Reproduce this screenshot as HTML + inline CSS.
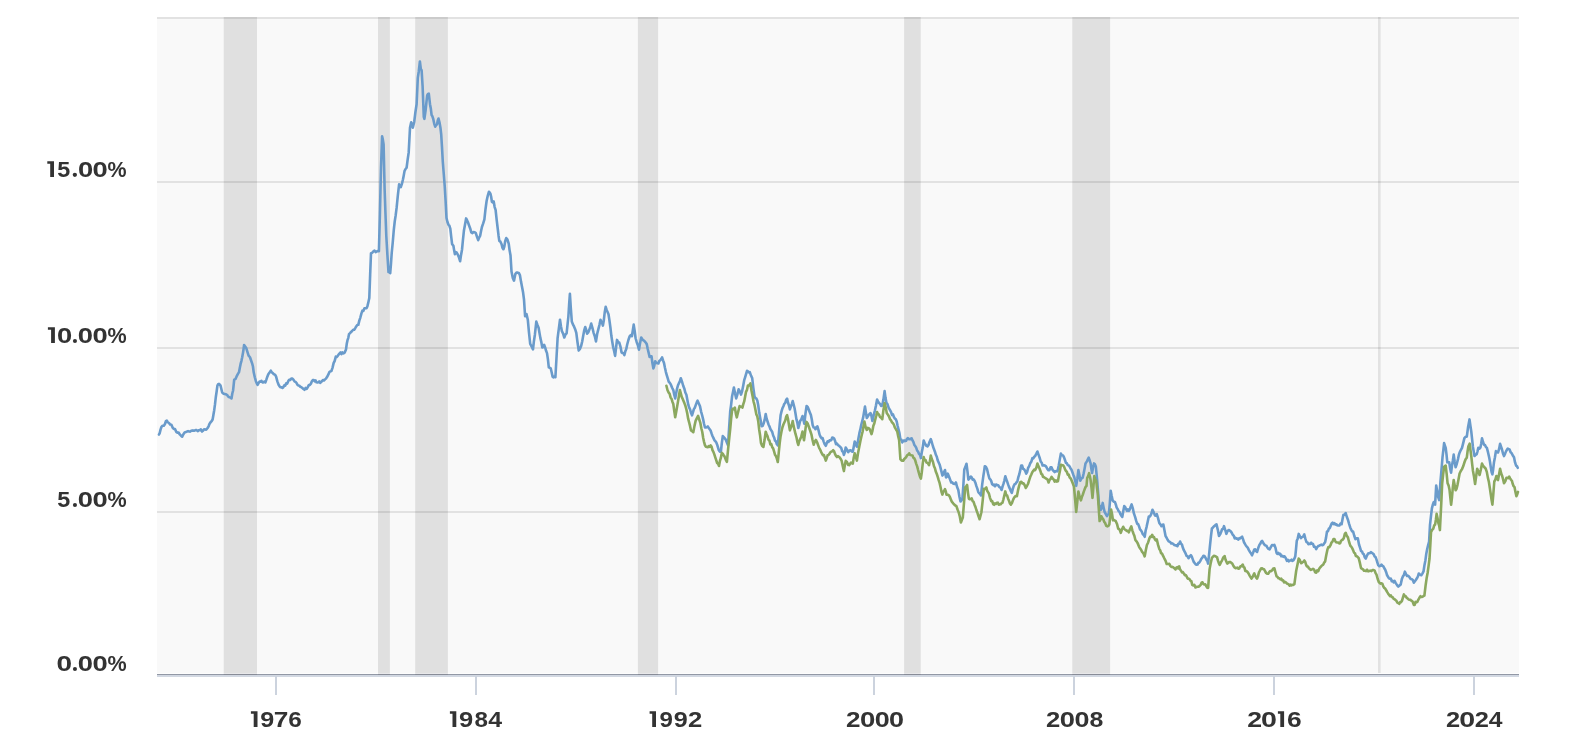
<!DOCTYPE html>
<html><head><meta charset="utf-8"><style>
html,body{margin:0;padding:0;background:#fff;width:1580px;height:750px;overflow:hidden}
svg{display:block}
text{font-family:"Liberation Sans",sans-serif;font-weight:bold;fill:#333}
.lbl{will-change:transform}
</style></head><body>
<svg width="1580" height="750" viewBox="0 0 1580 750">
<rect x="0" y="0" width="1580" height="750" fill="#fff"/>
<rect x="157" y="17" width="1362" height="656" fill="#f9f9f9"/>
<rect x="223.7" y="17" width="33.30000000000001" height="656" fill="#e0e0e0"/><rect x="378" y="17" width="11.899999999999977" height="656" fill="#e0e0e0"/><rect x="415.2" y="17" width="32.69999999999999" height="656" fill="#e0e0e0"/><rect x="637.9" y="17" width="20.200000000000045" height="656" fill="#e0e0e0"/><rect x="904.1" y="17" width="16.600000000000023" height="656" fill="#e0e0e0"/><rect x="1072.3" y="17" width="37.799999999999955" height="656" fill="#e0e0e0"/>
<rect x="1378" y="17" width="2.6" height="656" fill="#e2e2e2"/>
<rect x="157" y="17" width="1362" height="2" fill="rgba(0,0,0,0.09)"/>
<rect x="157" y="181" width="1362" height="2" fill="rgba(0,0,0,0.09)"/>
<rect x="157" y="347" width="1362" height="2" fill="rgba(0,0,0,0.09)"/>
<rect x="157" y="511" width="1362" height="2" fill="rgba(0,0,0,0.09)"/>
<rect x="157" y="673" width="1362" height="1" fill="#fdfdfd"/>
<rect x="223.7" y="673" width="33.30000000000001" height="1" fill="#e8e8ea"/><rect x="378" y="673" width="11.899999999999977" height="1" fill="#e8e8ea"/><rect x="415.2" y="673" width="32.69999999999999" height="1" fill="#e8e8ea"/><rect x="637.9" y="673" width="20.200000000000045" height="1" fill="#e8e8ea"/><rect x="904.1" y="673" width="16.600000000000023" height="1" fill="#e8e8ea"/><rect x="1072.3" y="673" width="37.799999999999955" height="1" fill="#e8e8ea"/><rect x="157" y="674" width="1362" height="1" fill="#9298a5"/><rect x="223.7" y="674" width="33.30000000000001" height="1" fill="#888c97"/><rect x="378" y="674" width="11.899999999999977" height="1" fill="#888c97"/><rect x="415.2" y="674" width="32.69999999999999" height="1" fill="#888c97"/><rect x="637.9" y="674" width="20.200000000000045" height="1" fill="#888c97"/><rect x="904.1" y="674" width="16.600000000000023" height="1" fill="#888c97"/><rect x="1072.3" y="674" width="37.799999999999955" height="1" fill="#888c97"/>
<rect x="157" y="675" width="1362" height="2" fill="#d2d8e2"/>
<rect x="275" y="676" width="2" height="19" fill="#ccd3de"/><rect x="475" y="676" width="2" height="19" fill="#ccd3de"/><rect x="675" y="676" width="2" height="19" fill="#ccd3de"/><rect x="873" y="676" width="2" height="19" fill="#ccd3de"/><rect x="1073" y="676" width="2" height="19" fill="#ccd3de"/><rect x="1273" y="676" width="2" height="19" fill="#ccd3de"/><rect x="1473" y="676" width="2" height="19" fill="#ccd3de"/>
<path d="M159 434.54 L159.8 432.83 L160.6 429.39 L161.4 427.01 L162.2 426 L163 425.73 L163.8 425.81 L164.85 424.29 L165.9 421.21 L166.85 420.62 L167.8 422.24 L169 423.04 L170.2 424.59 L171.4 424.81 L172.6 427.56 L173.8 428.93 L175 429 L176.2 431.87 L177.4 432.69 L178.6 432.47 L179.8 434.46 L181 435.7 L182.2 436.72 L183.4 434.26 L184.6 432.5 L185.8 432.11 L187 431.56 L188.07 431.13 L189.13 431.55 L190.2 431.6 L191.27 430.69 L192.33 430.42 L193.4 430.6 L194.47 430.6 L195.53 430.1 L196.6 430.16 L197.67 431.14 L198.73 430.3 L199.8 430.1 L200.87 429.41 L201.93 431.52 L203 430.76 L204.07 429.26 L205.13 429.43 L206.2 429.66 L207.4 428.26 L208.6 426.31 L209.4 424.06 L210.2 422.74 L211.4 421.46 L212.6 419.46 L213.4 415.01 L214.2 410.28 L215 404.43 L215.8 397.2 L216.6 391.81 L217.4 385.66 L218.2 384.18 L219 383.81 L219.8 384.59 L220.6 385.76 L221.4 389.32 L222.2 392.55 L223.4 393.62 L224.6 393.91 L225.8 394.25 L227 394.81 L228.2 396.67 L229.4 397.22 L230.45 397.59 L231.5 398.49 L232.3 393.52 L233.1 390.47 L234.2 379.75 L235.4 379.16 L236.6 376.47 L237.8 374.14 L239 372.16 L239.8 368.01 L240.6 363.95 L241.4 361.05 L242.2 357.23 L243.15 352.06 L244.1 345.01 L245.15 346.43 L246.2 347.93 L247.4 351.79 L248.6 355.57 L250 357.23 L251.1 360.47 L252.2 363.63 L252.95 366.51 L253.7 372.3 L254.8 377.27 L255.9 381.18 L256.75 383.33 L257.6 384.82 L258.55 383.14 L259.5 381.64 L260.5 381.59 L261.5 380.87 L262.5 382.37 L263.47 382.37 L264.43 381.58 L265.4 382.4 L266.37 379.66 L267.33 376.66 L268.3 374.19 L269.55 372.54 L270.8 370.69 L271.7 372.1 L272.6 372.97 L273.5 373.96 L274.37 374.38 L275.23 374.99 L276.1 376.56 L277.35 381.42 L278.6 384.81 L279.57 386.28 L280.53 387.29 L281.5 387.32 L282.43 387.95 L283.35 387.17 L284.27 385.37 L285.2 385.65 L286.17 383.37 L287.13 383.68 L288.1 381.42 L289.17 379.7 L290.23 379.97 L291.3 378.59 L292.43 378.63 L293.57 379.82 L294.7 381.62 L295.7 381.94 L296.7 383.32 L297.7 385.15 L298.6 385.52 L299.5 385.82 L300.4 386.81 L301.3 387.16 L302.37 388.06 L303.43 388.98 L304.5 389.78 L305.63 387.99 L306.77 388.83 L307.9 386.81 L308.9 385 L309.9 384.85 L310.9 383.73 L311.87 381.25 L312.83 380.14 L313.8 379.95 L314.7 381.28 L315.6 380.48 L316.5 382.34 L317.4 382.53 L318.32 382.31 L319.25 381.33 L320.18 382.94 L321.1 381.81 L322.03 381.16 L322.95 379.99 L323.88 380.53 L324.8 379.62 L325.9 378.63 L327 377.07 L328.4 374.39 L329.4 372.01 L330.4 371.35 L331.4 370.94 L332.5 367.85 L333.6 363.16 L334.7 360.86 L335.8 356.56 L336.77 357.02 L337.73 355.82 L338.7 354.44 L339.62 353.48 L340.55 352.47 L341.47 354.13 L342.4 352.47 L343.5 353.32 L344.6 352.63 L346 349.45 L346.75 343.86 L347.5 340.16 L348.25 338.09 L349 334.15 L350.04 333.14 L351.08 331.95 L352.12 330.99 L353.16 329.77 L354.2 329.73 L355.23 328.21 L356.25 326.42 L357.27 324.98 L358.3 324.82 L359.32 320.64 L360.35 317.55 L361.38 313.56 L362.4 310.67 L363.42 310.86 L364.45 308.24 L365.48 308.18 L366.5 308.28 L367.43 306.17 L368.37 302.28 L369.3 298.08 L370.15 274.91 L371 253.13 L372.25 252.76 L373.5 251.21 L374.57 250.66 L375.63 252.08 L376.7 251.43 L377.8 251.06 L378.9 251.25 L379.9 214.41 L381 167.86 L382.1 136.4 L382.85 139.66 L383.6 144.5 L384.6 188.79 L385.45 213.07 L386.3 235.97 L387.4 254.87 L388.5 272.11 L389.35 272.37 L390.2 273.15 L390.95 264.03 L391.7 253.07 L392.75 242.34 L393.8 229.78 L394.73 221.52 L395.67 215.42 L396.6 207.92 L397.85 195.34 L399.1 184.39 L399.95 186.68 L400.8 187.11 L401.9 183.94 L403 179.29 L403.75 175.43 L404.5 171.1 L405.55 169.01 L406.6 167.75 L407.65 159.54 L408.7 152.4 L410 127.83 L411.2 122.28 L412 124.85 L412.8 127.71 L414.2 121.97 L415.4 112.24 L416.6 104.21 L417.8 77.84 L418.8 71.25 L419.9 61.52 L420.8 68.91 L421.6 70.12 L422.6 86.28 L423.8 116.87 L424.4 118.81 L425.6 110.35 L426.4 102.61 L427.2 95.32 L428 93.9 L428.8 93.61 L430 104.18 L430.8 108.45 L431.6 115.1 L432.4 116.31 L433.2 118.74 L434.2 123.58 L435.2 126.65 L436.1 125.01 L437 124.38 L437.75 120.44 L438.5 118.51 L439.6 122.87 L440.4 127.43 L441.2 134.35 L442 147.36 L442.8 161.77 L443.75 173.73 L444.7 185.87 L445.6 200.8 L446.5 218 L447.45 222.08 L448.4 224.54 L449.35 225.62 L450.3 228.69 L451.2 236.63 L452.1 244.15 L453.4 245.73 L454.15 250.35 L454.9 254.22 L455.65 252.57 L456.4 252.23 L457.55 254.09 L458.7 256.72 L460.1 261.2 L461.05 254.92 L462 249.75 L462.95 239.92 L463.9 230.81 L465 224.74 L466.1 218.42 L467.03 220.17 L467.97 222.3 L468.9 224.98 L470.1 228.21 L471.3 232.45 L472.45 233.14 L473.6 232.06 L474.7 232.2 L475.8 233.03 L477 236.74 L478.2 240.17 L479.15 237.59 L480.1 235.95 L481.05 231.04 L482 226.69 L483.2 223.42 L484.4 219.29 L485.5 209.23 L486.6 201 L487.75 195.75 L488.9 191.81 L489.65 192.48 L490.4 193.66 L491.15 196.77 L491.9 201.8 L492.8 202.51 L493.7 201.5 L494.65 207.08 L495.6 209.96 L496.7 220.21 L497.8 229.25 L498.55 235.72 L499.3 240.87 L500.45 241.66 L501.6 244.21 L502.5 247.81 L503.4 249.25 L504.33 246.48 L505.27 240.81 L506.2 238.1 L507.45 239.68 L508.7 243.67 L509.6 250.37 L510.5 255.22 L511.5 271.49 L512.8 277.95 L514 280.68 L515.3 274.14 L516.5 272.58 L517.7 272.65 L518.8 272.98 L519.9 275.05 L521.05 281.85 L522.2 287.82 L523.1 292.55 L524 299.53 L525.1 316.22 L526.5 314.14 L527.8 319.73 L529 332.69 L530.2 343.97 L531.13 345.62 L532.07 347.35 L533 349.43 L533.95 340.96 L534.9 334.71 L536.3 321.54 L537.45 325.02 L538.6 327.78 L539.5 332.9 L540.4 338.14 L541.35 342.15 L542.3 347.53 L543.25 347.09 L544.2 344.83 L545.13 347.46 L546.07 350.77 L547 353.11 L547.9 359.12 L548.8 367.32 L549.75 367.75 L550.7 368.31 L551.65 372.25 L552.6 376.73 L553.53 377.36 L554.47 376.37 L555.4 377.2 L556.5 357.75 L557.6 338.2 L558.8 328.84 L560 319.74 L560.95 326.28 L561.9 331.2 L563.1 333.61 L564.3 337.51 L565.45 334.47 L566.6 333.39 L567.5 324.88 L568.4 316.27 L569.15 303.98 L569.9 293.79 L570.85 308.52 L571.8 321.46 L572.9 324.36 L574 326.45 L575.15 329.19 L576.3 332.94 L577.5 342.22 L578.7 350.57 L579.9 349.01 L581.1 346.09 L582.25 341.3 L583.4 334.65 L584.3 330.12 L585.2 327.02 L586.15 329.77 L587.1 333.75 L588.2 332.47 L589.3 329.68 L590.25 327.14 L591.2 323.56 L592.4 327.74 L593.6 332.81 L594.8 336.2 L596 341.37 L597.15 334 L598.3 329.35 L599.4 325.09 L600.5 319.79 L601.7 321.94 L602.9 325.6 L603.83 320.17 L604.77 311.97 L605.7 306.8 L606.63 309.92 L607.57 311.98 L608.5 314.24 L609.45 320.52 L610.4 327.51 L611.35 335.78 L612.3 342.02 L613.23 347.49 L614.17 351.27 L615.1 355.86 L616.05 347.73 L617 339.93 L618.1 342.13 L619.2 342.43 L620.4 346.34 L621.6 352.47 L622.53 353.11 L623.47 353.35 L624.4 355.05 L625.33 351.16 L626.27 348.93 L627.2 344.54 L628.4 339.96 L629.6 336.46 L630.75 335.15 L631.9 336.19 L632.8 330.5 L633.7 324.64 L634.65 330.7 L635.6 338.25 L636.73 342.23 L637.87 345.32 L639 349.66 L640.1 342.9 L641.2 337.53 L642.13 339.03 L643.07 340.01 L644 340.54 L644.93 341.58 L645.87 342.71 L646.8 344.26 L647.73 348.98 L648.67 352.84 L649.6 356.92 L650.55 356.23 L651.5 356.22 L652.45 363.34 L653.4 368.43 L654.3 365.54 L655.2 361.23 L656.27 362.95 L657.33 363.09 L658.4 363.44 L659.33 360.83 L660.25 360.3 L661.17 359.07 L662.1 357.36 L663.05 360.31 L664 363 L664.95 367.82 L665.9 372.04 L666.83 375.36 L667.77 378.48 L668.7 381.56 L669.8 382.86 L670.9 384.7 L672.1 387.74 L673.3 390.09 L674.25 394.65 L675.2 398.41 L676.13 393.42 L677.07 388.58 L678 385.24 L678.93 383.17 L679.87 381.38 L680.8 378.24 L682 381.73 L683.2 385.75 L684.27 388.44 L685.33 392.47 L686.4 394.73 L687.33 399.72 L688.27 404.64 L689.2 407.66 L690.13 409.51 L691.07 413.09 L692 415.32 L692.93 412.46 L693.87 409.11 L694.8 407.72 L695.73 405.16 L696.67 402.64 L697.6 400.66 L698.8 403.4 L700 406.17 L701.1 411.6 L702.2 415.48 L703.13 419.32 L704.07 423.96 L705 427.5 L705.93 427.46 L706.87 427.11 L707.8 426.43 L708.73 428.04 L709.67 429.29 L710.6 430.51 L711.53 433.38 L712.47 436.03 L713.4 437.89 L714.33 440.02 L715.27 441.09 L716.2 442.29 L717.45 445.53 L718.7 449.95 L719.8 451.65 L720.9 451.73 L721.85 442.91 L722.8 436.04 L723.73 437.03 L724.67 438.25 L725.6 439.27 L726.8 442.37 L728 445.28 L729.1 428.16 L730.2 411.5 L731.15 404.48 L732.1 396.25 L733 391.97 L733.9 387.62 L735.05 393.36 L736.2 398.43 L737.4 394.3 L738.6 389.28 L739.8 391.3 L741 394.59 L742.15 391.03 L743.3 385.23 L744.2 380.23 L745.1 377.34 L746.05 374.06 L747 370.81 L747.93 371.43 L748.87 372.47 L749.8 372.16 L751 375.57 L752.2 378.15 L753.35 388.06 L754.5 396.43 L755.43 398.13 L756.37 398.49 L757.3 400.44 L758.23 405.21 L759.17 412.3 L760.1 417.46 L760.85 421.44 L761.6 426.3 L762.7 425.76 L763.8 422.95 L764.75 419.43 L765.7 414.06 L766.63 418.76 L767.57 421.49 L768.5 424.47 L769.43 426.3 L770.37 428.96 L771.3 430.41 L772.23 431.96 L773.17 435.5 L774.1 437.46 L775.02 440.69 L775.95 441.26 L776.88 444.24 L777.8 445.26 L778.73 435.42 L779.67 424.66 L780.6 415.32 L781.53 411.33 L782.47 408.23 L783.4 406.16 L784.33 403.79 L785.25 402.85 L786.17 399.75 L787.1 398.66 L788.03 402.76 L788.97 405.5 L789.9 409.42 L790.83 406.65 L791.77 404.08 L792.7 401.01 L793.63 404.58 L794.57 408.3 L795.5 413.47 L796.43 419.33 L797.37 422.72 L798.3 428.06 L799.15 425.14 L800 421.13 L801.25 419.56 L802.5 416.08 L803.4 419.37 L804.3 423.74 L805.45 413.73 L806.6 405.94 L807.8 407.13 L809 410.33 L809.95 412.74 L810.9 415.01 L811.8 419.45 L812.7 425.21 L813.63 427.4 L814.57 427.78 L815.5 429.16 L816.45 427.01 L817.4 426.45 L818.5 430.09 L819.6 434.77 L820.6 436.92 L821.6 438.35 L822.6 438.07 L823.67 441.61 L824.73 444.26 L825.8 445.77 L826.7 443.27 L827.6 441.26 L828.53 441.91 L829.47 440.36 L830.4 440.57 L831.33 439.99 L832.27 437.6 L833.2 437.8 L834.13 438.5 L835.07 440.98 L836 444.12 L836.93 443.57 L837.87 444.98 L838.8 445.63 L840.05 446.76 L841.3 448.04 L842.17 451.24 L843.03 451.62 L843.9 454.88 L844.8 452.32 L845.7 447.47 L846.95 449.56 L848.2 452.12 L849.4 450.52 L850.6 450.26 L851.7 451.38 L852.8 451.68 L853.75 446.8 L854.7 441.45 L855.8 444.39 L856.9 446.72 L858.15 440.11 L859.4 433.14 L860.33 429.41 L861.27 424.72 L862.2 421.28 L863.13 417.68 L864.07 411.88 L865 406.59 L865.9 412.55 L866.8 417.94 L867.75 416.55 L868.7 414.78 L869.65 413.8 L870.6 413.14 L871.5 416.23 L872.4 420.97 L873.65 415.37 L874.9 410.52 L876 405.36 L877.1 399.48 L878.03 401.36 L878.97 402.97 L879.9 403.72 L881.1 405.99 L882.3 405.55 L883.45 399.35 L884.6 391.16 L885.5 397.8 L886.4 402.68 L887.55 404.32 L888.7 407.83 L889.9 409.88 L891.1 412.21 L892.03 415.03 L892.97 414.33 L893.9 417.02 L894.83 418.4 L895.77 419.17 L896.7 421.52 L897.6 425.85 L898.5 429.38 L899.45 433.11 L900.4 439.42 L901.35 439.82 L902.3 442.42 L903.23 440.87 L904.17 440.42 L905.1 441.12 L906.03 440.82 L906.97 438.89 L907.9 438.13 L908.83 439.11 L909.75 439.14 L910.67 439.25 L911.6 438.26 L912.53 440.42 L913.47 442.19 L914.4 445.04 L915.33 446.22 L916.25 447.86 L917.17 450.56 L918.1 451.83 L919.03 453.87 L919.97 454.88 L920.9 458.11 L921.83 451.98 L922.77 447.37 L923.7 440.46 L924.63 442.97 L925.57 444.52 L926.5 445.93 L927.45 446.4 L928.4 445.24 L929.6 441.7 L930.8 439.15 L931.87 442.49 L932.93 446.25 L934 449.31 L934.93 451.73 L935.87 454.78 L936.8 456.77 L937.73 460.36 L938.67 462.46 L939.6 464.47 L940.53 467.82 L941.47 471.65 L942.4 475.57 L943.27 474.4 L944.13 471.9 L945 470.02 L946 477.35 L946.9 476.69 L947.8 473.67 L949.05 476.69 L950.3 480.09 L951.23 482.48 L952.17 482.22 L953.1 483.5 L954.03 483.89 L954.97 483.66 L955.9 482.43 L957.1 486.97 L958.3 490 L959.4 496.47 L960.5 501.54 L961.45 500.46 L962.4 499.05 L963.35 485.28 L964.3 469.4 L965.4 466.89 L966.5 463.78 L967.45 471.17 L968.4 479.72 L969.6 478.34 L970.8 476.53 L971.73 477.45 L972.67 479.62 L973.6 479.42 L974.53 480.8 L975.47 482.96 L976.4 486.13 L977.33 488.62 L978.27 491.91 L979.2 493.17 L980.1 494.14 L981 495.46 L982.15 484.87 L983.3 476.31 L984.05 471.61 L984.8 466.23 L985.9 466.86 L987 469.03 L988.2 474.17 L989.4 478.52 L990.33 479.36 L991.27 481.21 L992.2 484.35 L993.13 485.08 L994.07 484.58 L995 486.26 L996.07 484.52 L997.13 485.02 L998.2 485.25 L999.33 487.07 L1000.47 487.61 L1001.6 489.98 L1002.52 486.59 L1003.45 483.88 L1004.38 480.59 L1005.3 476.25 L1006.23 479.32 L1007.17 481.61 L1008.1 484.42 L1009.02 486.92 L1009.95 488.84 L1010.88 491.15 L1011.8 492.86 L1012.73 489.12 L1013.67 486.18 L1014.6 484.28 L1015.53 483.82 L1016.47 482.27 L1017.4 481.29 L1018.35 477.09 L1019.3 474.27 L1020.25 470.09 L1021.2 465.46 L1022.13 465.56 L1023.07 468.78 L1024 469.17 L1025.1 470.76 L1026.2 473.66 L1027.2 471.79 L1028.2 467.68 L1029.2 466.13 L1030.27 463.13 L1031.33 461.73 L1032.4 458.18 L1033.3 458.5 L1034.2 456.84 L1035.1 456.15 L1036.25 453.92 L1037.4 451.52 L1038.6 454.85 L1039.8 458.23 L1040.73 461.55 L1041.67 462.71 L1042.6 465.49 L1043.73 465.27 L1044.87 465.59 L1046 466.4 L1047.1 468.46 L1048.2 470.14 L1049.33 470.31 L1050.47 467.42 L1051.6 467.4 L1052.63 470.05 L1053.67 471 L1054.7 472.05 L1055.63 471.35 L1056.57 471.1 L1057.5 471.31 L1058.63 466.05 L1059.77 459.61 L1060.9 453.59 L1062 455.27 L1063.1 455.45 L1064.03 457.39 L1064.97 460.05 L1065.9 462.81 L1066.83 463.23 L1067.77 465.07 L1068.7 465.39 L1069.63 466.57 L1070.57 468.43 L1071.5 469.82 L1072.43 472.25 L1073.37 474.9 L1074.3 477.25 L1075.25 481.01 L1076.2 485.83 L1077.3 478.91 L1078.4 470.16 L1079.35 474.74 L1080.3 480.76 L1081.5 478.42 L1082.7 477.61 L1083.63 473.51 L1084.57 468.73 L1085.5 463.55 L1086.9 461.4 L1087.8 459.32 L1088.7 457.66 L1089.65 460.28 L1090.6 463.44 L1091.35 468.72 L1092.1 473.01 L1093.05 467.31 L1094 463.44 L1094.9 464.3 L1095.8 466.46 L1097.1 479.72 L1098.05 491.95 L1099 504.43 L1099.95 506.66 L1100.9 509.86 L1101.8 507.25 L1102.7 502.9 L1103.65 507.67 L1104.6 511.96 L1105.8 514.02 L1107 516.22 L1107.95 514.43 L1108.9 513.72 L1109.8 503.33 L1110.7 490.71 L1111.65 495.83 L1112.6 500.34 L1113.75 501.71 L1114.9 501.93 L1115.8 504.44 L1116.7 507.64 L1117.63 509.02 L1118.57 511.04 L1119.5 511.86 L1120.43 514.15 L1121.37 515.76 L1122.3 516.9 L1123.25 511.34 L1124.2 506.12 L1125.13 507.04 L1126.07 509.09 L1127 510.89 L1127.93 509.38 L1128.87 510.85 L1129.8 509.42 L1130.7 506.63 L1131.6 504.39 L1132.75 508.03 L1133.9 513.41 L1135.1 516.95 L1136.3 521.18 L1137.23 523.95 L1138.17 524.13 L1139.1 526.49 L1140.03 529.31 L1140.97 530.34 L1141.9 531.89 L1142.83 534.29 L1143.77 534.84 L1144.7 536.79 L1145.65 530.47 L1146.6 526.85 L1147.7 521.73 L1148.8 516.51 L1150 516.42 L1151.2 514.23 L1152.5 509.73 L1153.75 512.36 L1155 515.49 L1155.9 515.67 L1156.8 514.2 L1158.05 518.06 L1159.3 522.95 L1160.4 524.44 L1161.5 526.23 L1162.45 524.82 L1163.4 524.64 L1164.5 530.44 L1165.6 536.13 L1166.6 537.75 L1167.6 539.79 L1168.6 541.15 L1169.47 541.83 L1170.33 542.14 L1171.2 543.44 L1172.2 543.34 L1173.2 543.81 L1174.2 545 L1175.27 545.36 L1176.33 545.38 L1177.4 546.18 L1178.3 543.77 L1179.2 543.88 L1180.1 541.54 L1181.03 543.65 L1181.97 544.67 L1182.9 547.77 L1183.83 550.22 L1184.77 551.98 L1185.7 553.72 L1186.63 556.01 L1187.57 556.19 L1188.5 558.2 L1189.7 556.39 L1190.9 555.13 L1191.8 556.7 L1192.7 559.15 L1193.6 561.6 L1194.6 562.93 L1195.6 564.25 L1196.6 564.75 L1197.47 564.54 L1198.33 562.84 L1199.2 562.68 L1200.4 560.71 L1201.6 558.48 L1202.53 557.38 L1203.47 555.74 L1204.4 555.95 L1205.5 557.68 L1206.6 560.08 L1207.35 560.9 L1208.1 563.6 L1209.05 554.88 L1210 545.45 L1210.95 536.37 L1211.9 528.47 L1213 527.49 L1214.1 526.16 L1215.3 525.14 L1216.5 524.34 L1217.75 529.6 L1219 535.99 L1220.1 534.38 L1221.2 531.77 L1222.13 529.22 L1223.07 528.91 L1224 526.21 L1225.2 529.81 L1226.4 533.83 L1227.27 531.65 L1228.13 530.34 L1229 529.94 L1230.25 530.91 L1231.5 532.41 L1232.57 534.47 L1233.63 535.55 L1234.7 538.33 L1235.62 537.91 L1236.55 538.74 L1237.48 538.52 L1238.4 539.52 L1239.33 538.15 L1240.25 538.53 L1241.17 537.44 L1242.1 536.65 L1243.03 539.12 L1243.97 542.22 L1244.9 543.73 L1245.83 545.5 L1246.77 546.62 L1247.7 547.62 L1248.9 550.05 L1250.1 552.23 L1251.05 553.35 L1252 555.29 L1253.15 552.52 L1254.3 549.44 L1255.23 549.26 L1256.17 551.29 L1257.1 551.97 L1258.3 547.82 L1259.5 544.75 L1260.37 543.64 L1261.23 541.67 L1262.1 540.84 L1263.3 542.97 L1264.5 544.78 L1265.43 545.5 L1266.37 545.72 L1267.3 547.51 L1268.45 548.87 L1269.6 549.43 L1270.8 547.21 L1272 545.05 L1273.2 545.34 L1274.4 544.93 L1275.5 547.87 L1276.6 553.06 L1277.53 553.94 L1278.47 552.97 L1279.4 554.4 L1280.33 553.87 L1281.27 556.28 L1282.2 555.8 L1283.35 556.82 L1284.5 556.25 L1285.7 557.91 L1286.9 560.88 L1287.83 559.78 L1288.77 561.44 L1289.7 560.51 L1290.62 560.46 L1291.55 559.68 L1292.48 560.84 L1293.4 560.43 L1294.35 558.7 L1295.3 556.22 L1296.05 548.75 L1296.8 540.65 L1297.75 538.39 L1298.7 533.9 L1299.8 536.24 L1300.9 538.11 L1302.03 537.12 L1303.17 536.65 L1304.3 534.47 L1305.4 538.92 L1306.5 542.07 L1307.43 542.41 L1308.37 544.24 L1309.3 543.73 L1310.23 544.05 L1311.17 542.73 L1312.1 543.78 L1313.05 544.09 L1314 546.75 L1315.1 546.8 L1316.2 549.07 L1317.2 547.23 L1318.2 546.07 L1319.2 545.71 L1320.27 545.06 L1321.33 544.55 L1322.4 545.15 L1323.3 544.85 L1324.2 543.31 L1325.1 542.22 L1326.05 537.62 L1327 531.52 L1327.93 531.21 L1328.87 528.61 L1329.8 528.04 L1330.73 525.79 L1331.67 523.45 L1332.6 522.6 L1333.53 524.03 L1334.47 523.22 L1335.4 524.57 L1336.33 524.23 L1337.27 525.28 L1338.2 525.56 L1339.33 525.55 L1340.47 523.53 L1341.6 524.25 L1342.5 519.3 L1343.4 514.75 L1344.55 514.76 L1345.7 513.06 L1346.8 516.83 L1347.9 519.7 L1349.1 523.85 L1350.3 527.68 L1351.23 529.65 L1352.17 531.41 L1353.1 531.46 L1354.25 535.79 L1355.4 539.19 L1356.6 538.32 L1357.8 538.35 L1359 544.49 L1360.2 548.16 L1361.07 551.02 L1361.93 551.35 L1362.8 553.44 L1363.8 554.29 L1364.8 557.45 L1365.8 558.51 L1366.95 555.61 L1368.1 553.54 L1369.03 553.24 L1369.97 553.22 L1370.9 552.17 L1371.83 552.76 L1372.77 553.45 L1373.7 554.3 L1374.63 556.5 L1375.57 557.1 L1376.5 559.66 L1377.4 562.6 L1378.3 565.35 L1379.37 566.19 L1380.43 565.85 L1381.5 564.65 L1382.43 565.84 L1383.37 566.43 L1384.3 568.26 L1385.23 569.75 L1386.17 572.17 L1387.1 575.29 L1388.03 576.77 L1388.97 578.35 L1389.9 578.75 L1390.83 578.67 L1391.77 581.23 L1392.7 580.93 L1393.63 582.41 L1394.57 580.81 L1395.5 582.53 L1396.43 584.15 L1397.37 585.63 L1398.3 586.6 L1399.5 585.49 L1400.7 584.42 L1401.85 579.11 L1403 576.32 L1403.95 574.91 L1404.9 571.69 L1406 574.14 L1407.1 575.99 L1408.3 575.92 L1409.5 577.2 L1410.7 579 L1411.9 579.23 L1412.85 579.97 L1413.8 582.66 L1414.9 581.23 L1416 579.75 L1416.93 578.34 L1417.87 576.51 L1418.8 573.46 L1420.05 574.68 L1421.3 575.24 L1422.4 573.62 L1423.5 571.43 L1424.45 565.19 L1425.4 560.4 L1426.3 553.69 L1427.2 549.1 L1428.15 545.03 L1429.1 541.64 L1430 524.9 L1430.95 516.35 L1431.9 508.34 L1432.85 504.57 L1433.8 502.05 L1435.1 504.63 L1436.2 485.46 L1437.15 490.67 L1438.1 496.74 L1439.2 500.07 L1440.4 482.35 L1441.45 470.3 L1442.5 457.47 L1443.3 450.48 L1444.1 443.16 L1444.9 445.6 L1445.7 447.94 L1446.5 454.4 L1447.3 462.32 L1448.25 462.13 L1449.2 462.18 L1450.15 468.36 L1451.1 472.7 L1451.97 465.83 L1452.83 460.69 L1453.7 454.65 L1454.65 461.47 L1455.6 467.29 L1456.8 463.75 L1458 459.08 L1458.8 455.14 L1459.6 452.62 L1460.8 450.04 L1462 447.84 L1463.2 443.12 L1464.4 438.15 L1465.6 436.71 L1466.8 436.62 L1468.1 426.98 L1469.5 419.42 L1470.4 425.69 L1471.3 431.78 L1472.1 439.03 L1472.9 446.67 L1473.7 451.39 L1474.5 456.04 L1475.6 454.94 L1476.7 454.18 L1477.5 451.5 L1478.3 447.7 L1479.35 448.69 L1480.4 447.68 L1481.2 443.79 L1482 438.32 L1483.05 442.04 L1484.1 444.87 L1485 444.98 L1485.9 447.03 L1486.8 447.69 L1488 452.18 L1489.2 457.51 L1490 461.89 L1490.8 467.32 L1491.6 471.97 L1492.4 474.3 L1493.2 469.21 L1494 462.2 L1494.95 457.3 L1495.9 451.09 L1496.95 452.08 L1498 452.5 L1499.05 449.19 L1500.1 443.79 L1501.05 446.71 L1502 449.45 L1503 453.54 L1504 456.07 L1505 453.88 L1506 451.38 L1506.9 449.81 L1507.8 448.54 L1508.7 449.04 L1509.67 449.69 L1510.63 452.22 L1511.6 453.13 L1512.8 455.51 L1514 457.31 L1515.05 462.45 L1516.1 465.7 L1516.9 466.19 L1517.7 467.79" fill="none" stroke="#6a9bcb" stroke-width="2.6" stroke-linejoin="round" stroke-linecap="round"/>
<path d="M666.4 385.73 L667.55 390.22 L668.7 392.58 L669.63 393.77 L670.57 397.44 L671.5 398.67 L672.4 401.71 L673.3 403.96 L674.25 410.9 L675.2 417.28 L676.4 410.84 L677.6 403.85 L678.75 396.93 L679.9 390.02 L680.8 393.44 L681.7 396.89 L682.6 398.82 L683.53 401.11 L684.47 403.37 L685.4 405.83 L686.33 409.22 L687.27 413.53 L688.2 418.97 L689.13 422.3 L690.07 426.18 L691 430.48 L692.15 431.21 L693.3 432.14 L694.5 425.87 L695.7 420.56 L696.9 418.13 L698.1 415.94 L699.25 419.52 L700.4 423.16 L701.33 428.19 L702.27 431.97 L703.2 437.98 L704.1 442.11 L705 445.27 L705.93 446.71 L706.87 447 L707.8 447.21 L708.73 446.02 L709.67 446.89 L710.6 445.43 L711.53 446.49 L712.47 450.11 L713.4 451.85 L714.33 454.41 L715.27 457.37 L716.2 460.09 L717.13 462.99 L718.07 463.84 L719 465.94 L719.93 460.98 L720.87 457.89 L721.8 452.89 L722.73 453.74 L723.67 455.23 L724.6 456.6 L725.75 459.64 L726.9 461.89 L728.1 449.13 L729.3 437.57 L730.23 428.85 L731.17 418.23 L732.1 409.99 L733.03 408.51 L733.97 409.42 L734.9 407.66 L735.85 413.6 L736.8 417.35 L737.73 413.48 L738.67 409.78 L739.6 406.11 L740.53 406.81 L741.47 406.75 L742.4 407.59 L743.3 404.1 L744.2 401.38 L745.1 396.69 L746.03 391.85 L746.97 389.9 L747.9 385.56 L749.15 385.48 L750.4 383.38 L751.5 390.69 L752.6 396.28 L753.53 401.33 L754.47 404.79 L755.4 409.5 L756.33 414.33 L757.27 416.22 L758.2 420.92 L759.13 429.22 L760.07 435.22 L761 443.09 L762.2 446.06 L763.4 446.94 L764.55 440.07 L765.7 431.76 L766.63 434.27 L767.57 436.31 L768.5 439.72 L769.42 440.45 L770.35 444.39 L771.28 444.01 L772.2 447.17 L773.13 448.35 L774.07 451.41 L775 454.73 L775.93 456.14 L776.87 458.67 L777.8 462.04 L778.73 452.93 L779.67 443.4 L780.6 436.15 L781.53 431.23 L782.47 427.22 L783.4 424.49 L784.33 422.55 L785.25 420.53 L786.17 416.7 L787.1 415.18 L788.03 419.14 L788.97 425.11 L789.9 430.39 L790.83 427.68 L791.77 424.96 L792.7 421.08 L793.63 426.14 L794.57 430.13 L795.5 433.98 L796.43 437.04 L797.37 441.79 L798.3 444.97 L799.15 441.39 L800 439.56 L801.25 436.65 L802.5 431.63 L803.25 436.3 L804 440.22 L804.87 434.1 L805.73 426.98 L806.6 421.93 L807.8 423.82 L809 427.28 L810.2 430.76 L811.4 434.35 L812.55 439.99 L813.7 444.74 L814.8 441.59 L815.9 439.96 L817.1 442.29 L818.3 445.61 L819.23 448.09 L820.17 449.65 L821.1 451.85 L822.03 453.78 L822.97 455.15 L823.9 455.01 L824.85 457.87 L825.8 460.62 L826.7 458.22 L827.6 455.29 L828.53 454.99 L829.47 453.84 L830.4 452.22 L831.33 451.62 L832.27 451.26 L833.2 450.24 L834.13 451.35 L835.07 454.11 L836 455.92 L836.93 457.04 L837.87 456.18 L838.8 456.81 L839.73 457.57 L840.67 458.92 L841.6 460.6 L842.75 466 L843.9 471.07 L844.8 465.49 L845.7 460.9 L846.95 462.01 L848.2 464.89 L849.13 465.08 L850.07 463.88 L851 462.65 L851.9 463.18 L852.8 463.66 L853.75 457.42 L854.7 453.34 L855.8 457.16 L856.9 460.57 L858.15 452.38 L859.4 446.12 L860.6 439.98 L861.8 434.71 L862.67 431.34 L863.53 426.23 L864.4 421.45 L865.6 426.96 L866.8 429.91 L867.75 427.95 L868.7 428.33 L869.63 429.11 L870.57 431.47 L871.5 434.05 L872.43 430.78 L873.37 425.77 L874.3 423.47 L875.23 419.55 L876.17 416 L877.1 412.09 L878.03 414.08 L878.97 414.41 L879.9 416.84 L881.1 417.59 L882.3 419.11 L883.45 409.88 L884.6 403.18 L885.7 407.36 L886.8 413.25 L888 414.84 L889.2 416.97 L890.13 419.48 L891.07 420.48 L892 422.33 L892.93 423.23 L893.87 424.66 L894.8 427.45 L896 429.44 L897.2 431.33 L898.15 436.11 L899.1 439.96 L900.4 459.11 L901.33 460.27 L902.27 460.74 L903.2 460.8 L904.13 459.22 L905.07 458.23 L906 457.32 L907.07 455.31 L908.13 454.7 L909.2 453.38 L910.3 455.09 L911.4 455.33 L912.5 455.51 L913.43 457.87 L914.37 458.45 L915.3 460.61 L916.23 463.87 L917.17 466.42 L918.1 470.05 L919.03 473.33 L919.97 476.7 L920.9 478.56 L921.83 472.13 L922.77 463.26 L923.7 457 L924.63 460.16 L925.57 459.98 L926.5 462.64 L927.75 463.06 L929 465.2 L929.9 461.3 L930.8 455.55 L931.87 459.29 L932.93 461.78 L934 466.25 L934.93 468.26 L935.87 471.81 L936.8 474.03 L937.73 476.85 L938.67 480.16 L939.6 482.92 L940.53 487.03 L941.47 491.75 L942.4 494.58 L943.27 491.63 L944.13 490.84 L945 489.16 L945.75 491.12 L946.5 494.68 L947.75 494.76 L949 495.45 L950.1 497.42 L951.2 500.36 L952.13 502.21 L953.07 503.24 L954 504.34 L955.2 505.41 L956.4 506.16 L957.55 509.53 L958.7 512.37 L959.8 516.48 L960.9 522.41 L961.85 520.01 L962.8 517.63 L964 502.81 L965.2 487.21 L966.15 486.44 L967.1 484.98 L968 493.11 L968.9 498.88 L969.83 499.29 L970.77 498.78 L971.7 498.29 L972.63 501.11 L973.57 501.77 L974.5 504.69 L975.43 506.87 L976.37 510 L977.3 512.44 L978.45 516.17 L979.6 519.25 L980.5 515.76 L981.4 512.25 L982.6 501.37 L983.8 488.91 L985.05 489.06 L986.3 487.45 L987.17 490.73 L988.03 492.08 L988.9 493.48 L990.1 498.12 L991.3 501.18 L992.23 501.17 L993.17 504.12 L994.1 504.79 L995.03 503.28 L995.97 503.99 L996.9 502.86 L997.83 502.66 L998.77 504.73 L999.7 504.34 L1000.63 504.27 L1001.57 503.24 L1002.5 502.62 L1003.43 499.23 L1004.37 495.25 L1005.3 491.39 L1006.23 495.19 L1007.17 495.51 L1008.1 498.64 L1009.03 500.83 L1009.97 503.54 L1010.9 504.71 L1012.03 502.74 L1013.17 499.63 L1014.3 497.33 L1015.17 496.47 L1016.03 495.97 L1016.9 496.2 L1018 490.4 L1019.1 485.86 L1020.2 482.38 L1021.33 481.75 L1022.47 483.47 L1023.6 483.4 L1024.7 485.27 L1025.8 487.93 L1026.93 486.02 L1028.07 483.74 L1029.2 480.14 L1030.27 476.79 L1031.33 474.52 L1032.4 471.97 L1033.3 470.87 L1034.2 469.56 L1035.1 470.14 L1036.25 467.97 L1037.4 463.5 L1038.4 466.16 L1039.4 468.25 L1040.4 470.96 L1041.27 473.76 L1042.13 474.27 L1043 476.71 L1044.1 477.19 L1045.2 477.96 L1046.3 478.8 L1047.45 479.33 L1048.6 482.43 L1049.6 479.86 L1050.6 478.82 L1051.6 476.81 L1052.63 478.53 L1053.67 479.48 L1054.7 481.55 L1055.77 480.32 L1056.83 481.62 L1057.9 481.22 L1058.9 475.77 L1059.9 470.94 L1060.9 464.71 L1062 465.26 L1063.1 465.26 L1064.03 466.63 L1064.97 469.03 L1065.9 470.81 L1066.83 471.73 L1067.77 474.63 L1068.7 474.52 L1069.63 477.43 L1070.57 478.24 L1071.5 480.3 L1072.75 483.21 L1074 486.6 L1075.1 499.4 L1076.2 511.86 L1077.3 501.71 L1078.4 491.45 L1079.65 496.75 L1080.9 500.3 L1081.83 497.06 L1082.77 494.74 L1083.7 491.91 L1084.63 489.32 L1085.57 486.91 L1086.5 485.81 L1087.2 477.78 L1088.15 476.08 L1089.1 473.21 L1089.85 476.25 L1090.6 480.11 L1091.55 488.11 L1092.5 497.82 L1093.4 487.17 L1094.3 476.03 L1095.25 479.23 L1096.2 480.69 L1096.95 487.76 L1097.7 493.21 L1098.65 506.91 L1099.6 521.04 L1100.5 519.63 L1101.4 516.37 L1102.35 518.2 L1103.3 519.27 L1104.2 521.95 L1105.1 522.98 L1106.25 525.8 L1107.4 526.35 L1108.35 525.84 L1109.3 524.72 L1110.2 516.83 L1111.1 509.62 L1112.05 514.07 L1113 520.33 L1113.93 519.95 L1114.87 520.54 L1115.8 521.18 L1117 523.9 L1118.2 528.73 L1119.07 529.04 L1119.93 530.33 L1120.8 532.89 L1122 529.41 L1123.2 526.8 L1124.13 528.65 L1125.07 529.59 L1126 530.15 L1126.93 530.94 L1127.87 530.83 L1128.8 532.34 L1130.05 529.04 L1131.3 526.34 L1132.4 530.58 L1133.5 533.75 L1134.43 536.03 L1135.37 539.96 L1136.3 541.11 L1137.23 542.41 L1138.17 544.42 L1139.1 546.82 L1140.03 548.38 L1140.97 549.53 L1141.9 551.59 L1142.83 552.62 L1143.77 554.14 L1144.7 556.38 L1145.8 550.31 L1146.9 545.01 L1148.15 542.49 L1149.4 538.28 L1150.33 536.51 L1151.27 536.98 L1152.2 534.85 L1153.13 537.14 L1154.07 537.15 L1155 539.62 L1155.9 540.43 L1156.8 539.48 L1158.05 544.89 L1159.3 548.98 L1160.17 550.18 L1161.03 553.16 L1161.9 553.42 L1163.1 555.79 L1164.3 558.29 L1165.5 560.56 L1166.7 564.04 L1167.57 564.03 L1168.43 564.01 L1169.3 563.83 L1170.3 565.9 L1171.3 566.84 L1172.3 566.85 L1173.37 567.42 L1174.43 568.25 L1175.5 569.42 L1176.42 567.61 L1177.35 567.06 L1178.28 568.49 L1179.2 566.33 L1180.13 569.52 L1181.07 570.76 L1182 572.5 L1182.93 572.12 L1183.87 573.6 L1184.8 575.21 L1185.73 575.05 L1186.67 576.52 L1187.6 578.59 L1188.53 578.55 L1189.47 579.12 L1190.4 580.72 L1191.33 581.19 L1192.27 584.86 L1193.2 585.41 L1194.33 584.82 L1195.47 587.46 L1196.6 586.91 L1197.63 586.76 L1198.67 586.64 L1199.7 585.94 L1200.63 584.97 L1201.57 582.68 L1202.5 582.28 L1203.43 584.1 L1204.37 584.47 L1205.3 584.32 L1206.23 586 L1207.17 587.73 L1208.1 587.84 L1208.85 578.73 L1209.6 569.13 L1210.75 562.88 L1211.9 557.92 L1212.83 556.87 L1213.77 555.86 L1214.7 556.09 L1215.9 556.51 L1217.1 557.39 L1217.97 560.63 L1218.83 563.2 L1219.7 564.86 L1220.9 562.37 L1222.1 560.3 L1223.35 557.34 L1224.6 556.02 L1225.47 559.56 L1226.33 561.61 L1227.2 563.59 L1228.17 562.91 L1229.13 562.11 L1230.1 561.95 L1231.25 562.73 L1232.4 563.73 L1233.47 565.95 L1234.53 567.41 L1235.6 568.14 L1236.52 568.03 L1237.45 567.58 L1238.38 568.74 L1239.3 568.45 L1240.43 566.22 L1241.57 566.12 L1242.7 564.54 L1243.57 566.95 L1244.43 567.61 L1245.3 570.94 L1246.43 571.12 L1247.57 572.03 L1248.7 573.76 L1249.63 575.61 L1250.57 577.13 L1251.5 578.57 L1252.43 577.32 L1253.37 575.21 L1254.3 573.37 L1255.23 575.92 L1256.17 577.61 L1257.1 578.64 L1258.03 576.14 L1258.97 572.29 L1259.9 570.68 L1261 568.56 L1262.1 568.2 L1263.1 569.14 L1264.1 569.21 L1265.1 571.23 L1266.13 572.98 L1267.17 573.72 L1268.2 573.67 L1269.13 572.27 L1270.07 571.13 L1271 571.13 L1272.13 570.45 L1273.27 568.5 L1274.4 568.39 L1275.5 572.47 L1276.6 576.44 L1277.53 576.93 L1278.47 578.3 L1279.4 578.37 L1280.33 579.38 L1281.27 578.69 L1282.2 580.35 L1283.13 580.29 L1284.07 582.45 L1285 581.89 L1285.93 582.33 L1286.87 583.46 L1287.8 583.92 L1288.73 584.36 L1289.67 585.62 L1290.6 584.68 L1291.55 585.33 L1292.5 584.91 L1293.45 584.91 L1294.4 583.96 L1295.3 577.34 L1296.2 570.79 L1297.45 564.79 L1298.7 558.62 L1299.57 559.59 L1300.43 561.81 L1301.3 563.18 L1302.3 562.39 L1303.3 561.71 L1304.3 560.46 L1305.17 561.68 L1306.03 564.59 L1306.9 566.46 L1307.9 566.47 L1308.9 568.34 L1309.9 569.11 L1310.93 569.92 L1311.97 569.44 L1313 568.86 L1314.07 569.56 L1315.13 572.34 L1316.2 572.66 L1317.2 570.36 L1318.2 571.16 L1319.2 568.78 L1320.27 567.32 L1321.33 566.1 L1322.4 565.12 L1323.3 564.6 L1324.2 562.46 L1325.1 561.56 L1326.25 555.31 L1327.4 549.64 L1328.4 547.01 L1329.4 547.12 L1330.4 545.43 L1331.43 542.69 L1332.47 541.62 L1333.5 539.11 L1334.43 539.09 L1335.37 541.28 L1336.3 542.3 L1337.25 542.57 L1338.2 542.44 L1339.15 543.4 L1340.1 543.2 L1341.03 540.83 L1341.97 539.95 L1342.9 539.53 L1343.83 538.02 L1344.77 534.09 L1345.7 532.75 L1346.8 535.85 L1347.9 537.37 L1349.1 541.99 L1350.3 545.72 L1351.23 546.63 L1352.17 548.14 L1353.1 550.08 L1354.03 552.66 L1354.97 553.27 L1355.9 556.09 L1356.83 556.34 L1357.77 557.05 L1358.7 558.14 L1359.85 562.69 L1361 568.08 L1362 568.75 L1363 569.28 L1364 570.7 L1365.03 570.68 L1366.07 571.06 L1367.1 569.71 L1368.17 571.37 L1369.23 571.02 L1370.3 570.58 L1371.43 571.1 L1372.57 570.06 L1373.7 570.01 L1374.63 570.58 L1375.57 573.09 L1376.5 574.61 L1377.7 579.03 L1378.9 582.16 L1379.77 583.06 L1380.63 583.6 L1381.5 583.3 L1382.43 583.93 L1383.37 586.58 L1384.3 587.93 L1385.23 588.57 L1386.17 590.24 L1387.1 591.93 L1388.03 593.44 L1388.97 594.78 L1389.9 596.02 L1390.83 595.35 L1391.77 597.04 L1392.7 597.2 L1393.63 598.84 L1394.57 599.22 L1395.5 600.04 L1396.43 600.78 L1397.37 602.55 L1398.3 603.08 L1399.23 603.87 L1400.17 602.15 L1401.1 602.08 L1402.03 600.71 L1402.97 597.45 L1403.9 594.42 L1404.83 596.32 L1405.77 596.24 L1406.7 597.82 L1407.63 598.46 L1408.57 599.5 L1409.5 599.69 L1410.45 599.87 L1411.4 600.64 L1412.6 601.51 L1413.8 604.89 L1414.67 604.88 L1415.53 601.95 L1416.4 602.32 L1417.4 601.83 L1418.4 599.58 L1419.4 597.76 L1420.47 596.18 L1421.53 597 L1422.6 596.68 L1423.5 596 L1424.4 595.64 L1425.7 584.71 L1426.65 578.09 L1427.6 572.97 L1428.55 566.07 L1429.5 558.74 L1430.25 546.09 L1431 532.32 L1432.1 529.86 L1433.2 528.79 L1434.15 525.55 L1435.1 524.62 L1435.85 519.89 L1436.6 513.88 L1437.5 518.02 L1438.4 523.19 L1439.15 525.52 L1439.9 530.07 L1441.2 504.69 L1442.2 483.01 L1443.15 474.46 L1444.1 466.84 L1444.9 466.17 L1445.7 465.6 L1446.65 473.87 L1447.6 483.31 L1448.55 485.33 L1449.5 489.61 L1450.3 497.27 L1451.1 504.73 L1451.97 497.53 L1452.83 487.37 L1453.7 479.95 L1454.65 485.1 L1455.6 490.31 L1456.55 488.74 L1457.5 484.85 L1458.55 479.24 L1459.6 473.56 L1460.8 471.05 L1462 469.12 L1463.2 466.32 L1464.4 462.51 L1465.6 459.19 L1466.8 457.67 L1467.6 451.11 L1468.4 446.29 L1469.7 443.66 L1470.5 450.49 L1471.3 456.34 L1472.1 463.53 L1472.9 470.45 L1474 476.6 L1475.1 483.96 L1476.15 476.31 L1477.2 468.74 L1478.4 471.45 L1479.6 475 L1480.8 469.8 L1482 463.53 L1483.2 465.97 L1484.4 467.29 L1485.6 468.47 L1486.8 471.86 L1487.85 477.62 L1488.9 481.94 L1489.85 488.11 L1490.8 494.45 L1491.6 500.05 L1492.4 504.62 L1493.35 493.71 L1494.3 481.5 L1495.35 479.63 L1496.4 475.97 L1497.2 478.39 L1498 480.04 L1499.05 474.48 L1500.1 468.77 L1501.05 473.09 L1502 475.38 L1503 479.01 L1504 483.2 L1505.25 481.35 L1506.5 477.78 L1507.4 477.7 L1508.3 478.17 L1509.2 476.52 L1510.1 478.37 L1511 479.76 L1511.9 480.77 L1512.77 484.05 L1513.63 486.19 L1514.5 487.12 L1515.45 491.88 L1516.4 496.19 L1517.2 494.47 L1518 491.9" fill="none" stroke="#8ba85f" stroke-width="2.6" stroke-linejoin="round" stroke-linecap="round"/>
<g class="lbl"><path d="M47.30 161.20H54.00V177.00H50.20V163.80H47.30Z" fill="#333"/><text transform="matrix(0.2340 0 0 0.2257 57.30 176.77)" font-size="100">5</text><circle cx="74.85" cy="174.85" r="2.15" fill="#333"/><text transform="matrix(0.2737 0 0 0.2225 77.91 176.78)" font-size="100">0</text><text transform="matrix(0.2737 0 0 0.2225 92.61 176.78)" font-size="100">0</text><text transform="matrix(0.2143 0 0 0.2241 107.46 176.78)" font-size="100">%</text><path d="M47.90 327.20H54.90V343.00H51.10V329.80H47.90Z" fill="#333"/><text transform="matrix(0.2737 0 0 0.2225 56.91 342.78)" font-size="100">0</text><circle cx="74.95" cy="340.95" r="2.05" fill="#333"/><text transform="matrix(0.2737 0 0 0.2225 77.81 342.78)" font-size="100">0</text><text transform="matrix(0.2737 0 0 0.2225 92.41 342.78)" font-size="100">0</text><text transform="matrix(0.2155 0 0 0.2241 107.46 342.78)" font-size="100">%</text><text transform="matrix(0.2340 0 0 0.2257 57.30 506.77)" font-size="100">5</text><circle cx="74.95" cy="504.95" r="2.05" fill="#333"/><text transform="matrix(0.2737 0 0 0.2225 77.81 506.78)" font-size="100">0</text><text transform="matrix(0.2737 0 0 0.2225 92.41 506.78)" font-size="100">0</text><text transform="matrix(0.2155 0 0 0.2241 107.46 506.78)" font-size="100">%</text><text transform="matrix(0.2800 0 0 0.2225 56.58 670.78)" font-size="100">0</text><circle cx="74.95" cy="668.95" r="2.05" fill="#333"/><text transform="matrix(0.2737 0 0 0.2225 77.81 670.78)" font-size="100">0</text><text transform="matrix(0.2737 0 0 0.2225 92.41 670.78)" font-size="100">0</text><text transform="matrix(0.2155 0 0 0.2241 107.46 670.78)" font-size="100">%</text><path d="M250.90 711.20H257.50V727.00H253.70V713.80H250.90Z" fill="#333"/><text transform="matrix(0.2515 0 0 0.2225 260.22 726.78)" font-size="100">9</text><text transform="matrix(0.2624 0 0 0.2290 273.82 727.00)" font-size="100">7</text><text transform="matrix(0.2433 0 0 0.2225 288.35 726.78)" font-size="100">6</text><path d="M449.90 711.20H456.30V727.00H452.50V713.80H449.90Z" fill="#333"/><text transform="matrix(0.2557 0 0 0.2225 459.11 726.78)" font-size="100">9</text><text transform="matrix(0.2424 0 0 0.2225 474.57 726.78)" font-size="100">8</text><text transform="matrix(0.2486 0 0 0.2290 488.13 727.00)" font-size="100">4</text><path d="M649.60 711.20H656.00V727.00H652.20V713.80H649.60Z" fill="#333"/><text transform="matrix(0.2412 0 0 0.2225 659.46 726.78)" font-size="100">9</text><text transform="matrix(0.2515 0 0 0.2225 673.82 726.78)" font-size="100">9</text><text transform="matrix(0.2562 0 0 0.2257 688.10 727.00)" font-size="100">2</text><text transform="matrix(0.2604 0 0 0.2257 846.09 727.00)" font-size="100">2</text><text transform="matrix(0.2758 0 0 0.2225 860.00 726.78)" font-size="100">0</text><text transform="matrix(0.2695 0 0 0.2225 874.72 726.78)" font-size="100">0</text><text transform="matrix(0.2695 0 0 0.2225 889.12 726.78)" font-size="100">0</text><text transform="matrix(0.2562 0 0 0.2257 1046.10 727.00)" font-size="100">2</text><text transform="matrix(0.2737 0 0 0.2225 1059.81 726.78)" font-size="100">0</text><text transform="matrix(0.2695 0 0 0.2225 1074.42 726.78)" font-size="100">0</text><text transform="matrix(0.2485 0 0 0.2225 1089.45 726.78)" font-size="100">8</text><text transform="matrix(0.2667 0 0 0.2257 1247.37 727.00)" font-size="100">2</text><text transform="matrix(0.2863 0 0 0.2225 1261.05 726.78)" font-size="100">0</text><path d="M1277.90 711.20H1284.10V727.00H1280.30V713.80H1277.90Z" fill="#333"/><text transform="matrix(0.2639 0 0 0.2225 1286.88 726.78)" font-size="100">6</text><text transform="matrix(0.2542 0 0 0.2257 1445.91 727.00)" font-size="100">2</text><text transform="matrix(0.2863 0 0 0.2225 1459.25 726.78)" font-size="100">0</text><text transform="matrix(0.2542 0 0 0.2257 1474.81 727.00)" font-size="100">2</text><text transform="matrix(0.2467 0 0 0.2290 1488.63 727.00)" font-size="100">4</text></g>
</svg>
</body></html>
